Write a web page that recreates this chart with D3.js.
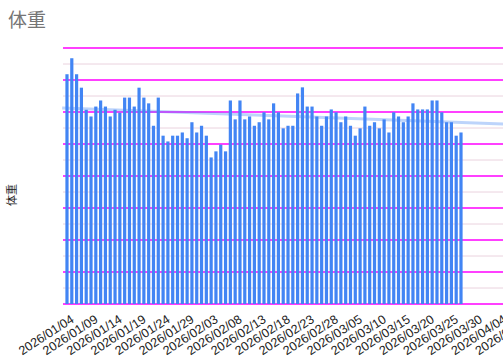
<!DOCTYPE html>
<html lang="ja">
<head>
    <meta charset="UTF-8">
    <title>体重</title>
    <script src="https://d3js.org/d3.v7.min.js"></script>
    <style>
        body { margin: 0; background: #fff; }
        svg { display: block; font-family: "Liberation Sans", Arial, sans-serif; }
    </style>
</head>
<body>
    <div id="chart"></div>

    <script>
        // one value per day starting 2026/01/04
        var firstDay = "2026/01/04";
        var weights = [
            71.8, 76.8, 71.8, 67.6, 60.7, 58.6, 61.7, 63.6, 61.7, 58.6,
            60.7, 59.8, 64.5, 64.5, 61.7, 67.6, 64.5, 62.7, 55.7, 64.5,
            52.6, 50.8, 52.6, 52.6, 53.6, 51.8, 56.8, 53.6, 55.7, 52.6,
            45.8, 47.7, 49.8, 47.7, 63.6, 57.7, 63.6, 57.7, 58.6, 55.7,
            56.8, 59.9, 57.7, 62.7, 59.9, 54.9, 55.7, 55.7, 65.8, 67.7,
            61.7, 61.7, 58.6, 55.7, 58.6, 60.8, 59.9, 56.8, 58.6, 55.7,
            52.6, 54.9, 61.7, 55.7, 56.8, 54.9, 57.7, 53.6, 59.9, 58.6,
            56.8, 58.6, 62.7, 60.8, 60.8, 60.8, 63.6, 63.6, 59.9, 56.8,
            56.8, 52.6, 53.6
        ];
        var tickLabels = [
            "2026/01/04", "2026/01/09", "2026/01/14", "2026/01/19", "2026/01/24",
            "2026/01/29", "2026/02/03", "2026/02/08", "2026/02/13", "2026/02/18",
            "2026/02/23", "2026/02/28", "2026/03/05", "2026/03/10", "2026/03/15",
            "2026/03/20", "2026/03/25", "2026/03/30", "2026/04/04", "2026/04/09"
        ];
        var trendDates = ["2026/01/03", "2026/04/05"];
        var trendValues = [61.25, 56.25];
        var majorTicks = [0, 10, 20, 30, 40, 50, 60, 70, 80];
        var minorTicks = [5, 15, 25, 35, 45, 55, 65, 75];

        var width = 503, height = 359;
        var plotLeft = 63, plotTop = 48, plotBottom = 304;
        var pxPerDay = 4.805;

        var parse = d3.utcParse("%Y/%m/%d");
        var start = parse(firstDay);
        var domainStart = new Date(start.getTime() - 0.83 * 864e5);
        var domainEnd = d3.utcDay.offset(start, 100);

        var x = d3.scaleUtc()
            .domain([domainStart, domainEnd])
            .range([plotLeft, plotLeft + (100 + 0.83) * pxPerDay]);
        var y = d3.scaleLinear().domain([0, 80]).range([plotBottom, plotTop]);

        var data = weights.map(function(v, i) {
            return { date: d3.utcDay.offset(start, i), value: v };
        });

        var svg = d3.select("#chart").append("svg")
            .attr("width", width)
            .attr("height", height);

        // title
        svg.append("text")
            .attr("x", 8)
            .attr("y", 27)
            .attr("fill", "#757575")
            .style("font-family", "'Noto Sans CJK JP', sans-serif")
            .style("font-size", "19px")
            .text("体重");

        // y axis title
        svg.append("text")
            .attr("transform", "translate(16,195) rotate(-90)")
            .attr("text-anchor", "middle")
            .attr("fill", "#222")
            .style("font-family", "'Noto Sans CJK JP', sans-serif")
            .style("font-size", "11px")
            .text("体重");

        // gridlines
        svg.append("g").selectAll("line")
            .data(minorTicks)
            .enter().append("line")
            .attr("x1", plotLeft).attr("x2", width)
            .attr("y1", function(d) { return y(d); })
            .attr("y2", function(d) { return y(d); })
            .attr("stroke", "#ead2de")
            .attr("stroke-width", 1);

        svg.append("g").selectAll("line")
            .data(majorTicks)
            .enter().append("line")
            .attr("x1", plotLeft).attr("x2", width)
            .attr("y1", function(d) { return y(d); })
            .attr("y2", function(d) { return y(d); })
            .attr("stroke", "#ff00ff")
            .attr("stroke-width", 1.3);

        // bars
        var barW = 3.2;
        svg.append("g").selectAll("rect")
            .data(data)
            .enter().append("rect")
            .attr("x", function(d) { return x(d.date) - barW / 2; })
            .attr("y", function(d) { return y(d.value); })
            .attr("width", barW)
            .attr("height", function(d) { return y(0) - y(d.value); })
            .attr("fill", "#4285f4");

        // trend line
        var trend = trendDates.map(function(d, i) {
            return { date: parse(d), value: trendValues[i] };
        });
        svg.append("path")
            .datum(trend)
            .attr("fill", "none")
            .attr("stroke", "#4285f4")
            .attr("stroke-opacity", 0.35)
            .attr("stroke-width", 3)
            .attr("d", d3.line()
                .x(function(d) { return x(d.date); })
                .y(function(d) { return y(d.value); }));

        // x tick labels
        svg.append("g").selectAll("text")
            .data(tickLabels)
            .enter().append("text")
            .attr("transform", function(d) {
                return "translate(" + (x(parse(d)) + 3) + "," + (plotBottom + 10) + ") rotate(-33)";
            })
            .attr("text-anchor", "end")
            .attr("dy", "0.7em")
            .attr("fill", "#222")
            .style("font-size", "12.5px")
            .text(function(d) { return d; });
    </script>
</body>
</html>
